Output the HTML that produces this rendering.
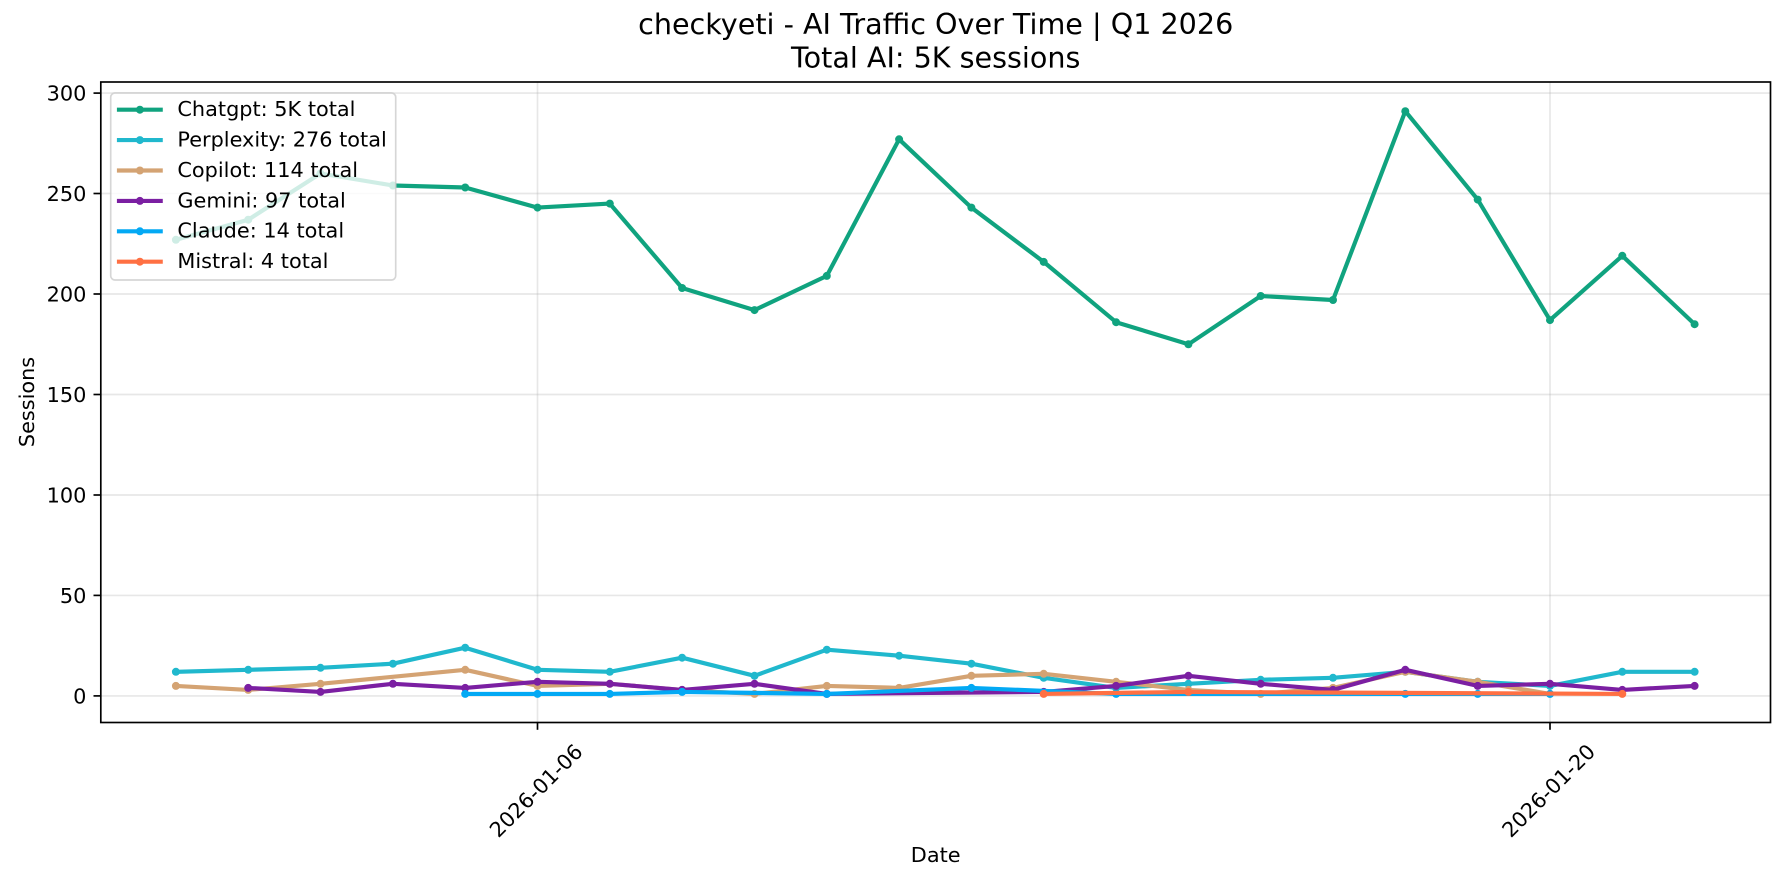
<!DOCTYPE html>
<html>
<head>
<meta charset="utf-8">
<style>
  html, body { margin: 0; padding: 0; background: #ffffff; }
  svg { display: block; }
  text { font-family: "DejaVu Sans", "Liberation Sans", sans-serif; fill: #000; }
</style>
</head>
<body>
<svg width="1785" height="884" viewBox="0 0 1785 884" xmlns="http://www.w3.org/2000/svg">
  <rect x="0" y="0" width="1785" height="884" fill="#ffffff"/>

  <!-- Gridlines -->
  <g stroke="#b0b0b0" stroke-opacity="0.3" stroke-width="1.67" fill="none">
    <line x1="101" y1="695.9" x2="1770.5" y2="695.9"/>
    <line x1="101" y1="595.4" x2="1770.5" y2="595.4"/>
    <line x1="101" y1="495.0" x2="1770.5" y2="495.0"/>
    <line x1="101" y1="394.5" x2="1770.5" y2="394.5"/>
    <line x1="101" y1="294.0" x2="1770.5" y2="294.0"/>
    <line x1="101" y1="193.5" x2="1770.5" y2="193.5"/>
    <line x1="101" y1="93.1" x2="1770.5" y2="93.1"/>
    <line x1="537.5" y1="82" x2="537.5" y2="722.5"/>
    <line x1="1550.0" y1="82" x2="1550.0" y2="722.5"/>
  </g>

  <!-- Chatgpt -->
  <g>
    <polyline fill="none" stroke="#10A37F" stroke-width="4.17" stroke-linejoin="round" stroke-linecap="square"
      points="175.9,239.8 248.2,219.7 320.5,173.5 392.9,185.5 465.2,187.5 537.5,207.6 609.8,203.6 682.1,288.0 754.5,310.1 826.8,275.9 899.1,139.3 971.4,207.6 1043.7,261.9 1116.1,322.2 1188.4,344.3 1260.7,296.0 1333.0,300.0 1405.3,111.2 1477.7,199.6 1550.0,320.1 1622.3,255.8 1694.6,324.2"/>
    <g fill="#10A37F">
      <circle cx="175.9" cy="239.8" r="4"/><circle cx="248.2" cy="219.7" r="4"/><circle cx="320.5" cy="173.5" r="4"/><circle cx="392.9" cy="185.5" r="4"/><circle cx="465.2" cy="187.5" r="4"/><circle cx="537.5" cy="207.6" r="4"/><circle cx="609.8" cy="203.6" r="4"/><circle cx="682.1" cy="288.0" r="4"/><circle cx="754.5" cy="310.1" r="4"/><circle cx="826.8" cy="275.9" r="4"/><circle cx="899.1" cy="139.3" r="4"/><circle cx="971.4" cy="207.6" r="4"/><circle cx="1043.7" cy="261.9" r="4"/><circle cx="1116.1" cy="322.2" r="4"/><circle cx="1188.4" cy="344.3" r="4"/><circle cx="1260.7" cy="296.0" r="4"/><circle cx="1333.0" cy="300.0" r="4"/><circle cx="1405.3" cy="111.2" r="4"/><circle cx="1477.7" cy="199.6" r="4"/><circle cx="1550.0" cy="320.1" r="4"/><circle cx="1622.3" cy="255.8" r="4"/><circle cx="1694.6" cy="324.2" r="4"/>
    </g>
  </g>

  <!-- Perplexity -->
  <g>
    <polyline fill="none" stroke="#20B8CD" stroke-width="4.17" stroke-linejoin="round" stroke-linecap="square"
      points="175.9,671.8 248.2,669.8 320.5,667.8 392.9,663.7 465.2,647.7 537.5,669.8 609.8,671.8 682.1,657.7 754.5,675.8 826.8,649.7 899.1,655.7 971.4,663.7 1043.7,677.8 1116.1,687.9 1188.4,683.8 1260.7,679.8 1333.0,677.8 1405.3,671.8 1477.7,681.8 1550.0,685.9 1622.3,671.8 1694.6,671.8"/>
    <g fill="#20B8CD">
      <circle cx="175.9" cy="671.8" r="4"/><circle cx="248.2" cy="669.8" r="4"/><circle cx="320.5" cy="667.8" r="4"/><circle cx="392.9" cy="663.7" r="4"/><circle cx="465.2" cy="647.7" r="4"/><circle cx="537.5" cy="669.8" r="4"/><circle cx="609.8" cy="671.8" r="4"/><circle cx="682.1" cy="657.7" r="4"/><circle cx="754.5" cy="675.8" r="4"/><circle cx="826.8" cy="649.7" r="4"/><circle cx="899.1" cy="655.7" r="4"/><circle cx="971.4" cy="663.7" r="4"/><circle cx="1043.7" cy="677.8" r="4"/><circle cx="1116.1" cy="687.9" r="4"/><circle cx="1188.4" cy="683.8" r="4"/><circle cx="1260.7" cy="679.8" r="4"/><circle cx="1333.0" cy="677.8" r="4"/><circle cx="1405.3" cy="671.8" r="4"/><circle cx="1477.7" cy="681.8" r="4"/><circle cx="1550.0" cy="685.9" r="4"/><circle cx="1622.3" cy="671.8" r="4"/><circle cx="1694.6" cy="671.8" r="4"/>
    </g>
  </g>

  <!-- Copilot -->
  <g>
    <polyline fill="none" stroke="#D4A373" stroke-width="4.17" stroke-linejoin="round" stroke-linecap="square"
      points="175.9,685.9 248.2,689.9 320.5,683.8 465.2,669.8 537.5,685.9 609.8,683.8 682.1,689.9 754.5,693.9 826.8,685.9 899.1,687.9 971.4,675.8 1043.7,673.8 1116.1,681.8 1188.4,689.9 1260.7,693.9 1333.0,687.9 1405.3,671.8 1477.7,681.8 1550.0,693.9"/>
    <g fill="#D4A373">
      <circle cx="175.9" cy="685.9" r="4"/><circle cx="248.2" cy="689.9" r="4"/><circle cx="320.5" cy="683.8" r="4"/><circle cx="465.2" cy="669.8" r="4"/><circle cx="537.5" cy="685.9" r="4"/><circle cx="609.8" cy="683.8" r="4"/><circle cx="682.1" cy="689.9" r="4"/><circle cx="754.5" cy="693.9" r="4"/><circle cx="826.8" cy="685.9" r="4"/><circle cx="899.1" cy="687.9" r="4"/><circle cx="971.4" cy="675.8" r="4"/><circle cx="1043.7" cy="673.8" r="4"/><circle cx="1116.1" cy="681.8" r="4"/><circle cx="1188.4" cy="689.9" r="4"/><circle cx="1260.7" cy="693.9" r="4"/><circle cx="1333.0" cy="687.9" r="4"/><circle cx="1405.3" cy="671.8" r="4"/><circle cx="1477.7" cy="681.8" r="4"/><circle cx="1550.0" cy="693.9" r="4"/>
    </g>
  </g>

  <!-- Gemini -->
  <g>
    <polyline fill="none" stroke="#7B1FA2" stroke-width="4.17" stroke-linejoin="round" stroke-linecap="square"
      points="248.2,687.9 320.5,691.9 392.9,683.8 465.2,687.9 537.5,681.8 609.8,683.8 682.1,689.9 754.5,683.8 826.8,693.9 1043.7,691.9 1116.1,685.9 1188.4,675.8 1260.7,683.8 1333.0,689.9 1405.3,669.8 1477.7,685.9 1550.0,683.8 1622.3,689.9 1694.6,685.9"/>
    <g fill="#7B1FA2">
      <circle cx="248.2" cy="687.9" r="4"/><circle cx="320.5" cy="691.9" r="4"/><circle cx="392.9" cy="683.8" r="4"/><circle cx="465.2" cy="687.9" r="4"/><circle cx="537.5" cy="681.8" r="4"/><circle cx="609.8" cy="683.8" r="4"/><circle cx="682.1" cy="689.9" r="4"/><circle cx="754.5" cy="683.8" r="4"/><circle cx="826.8" cy="693.9" r="4"/><circle cx="1043.7" cy="691.9" r="4"/><circle cx="1116.1" cy="685.9" r="4"/><circle cx="1188.4" cy="675.8" r="4"/><circle cx="1260.7" cy="683.8" r="4"/><circle cx="1333.0" cy="689.9" r="4"/><circle cx="1405.3" cy="669.8" r="4"/><circle cx="1477.7" cy="685.9" r="4"/><circle cx="1550.0" cy="683.8" r="4"/><circle cx="1622.3" cy="689.9" r="4"/><circle cx="1694.6" cy="685.9" r="4"/>
    </g>
  </g>

  <!-- Claude -->
  <g>
    <polyline fill="none" stroke="#03A9F4" stroke-width="4.17" stroke-linejoin="round" stroke-linecap="square"
      points="465.2,693.9 537.5,693.9 609.8,693.9 682.1,691.9 826.8,693.9 971.4,687.9 1116.1,693.9 1405.3,693.9 1477.7,693.9 1550.0,693.9"/>
    <g fill="#03A9F4">
      <circle cx="465.2" cy="693.9" r="4"/><circle cx="537.5" cy="693.9" r="4"/><circle cx="609.8" cy="693.9" r="4"/><circle cx="682.1" cy="691.9" r="4"/><circle cx="826.8" cy="693.9" r="4"/><circle cx="971.4" cy="687.9" r="4"/><circle cx="1116.1" cy="693.9" r="4"/><circle cx="1405.3" cy="693.9" r="4"/><circle cx="1477.7" cy="693.9" r="4"/><circle cx="1550.0" cy="693.9" r="4"/>
    </g>
  </g>

  <!-- Mistral -->
  <g>
    <polyline fill="none" stroke="#FF7043" stroke-width="4.17" stroke-linejoin="round" stroke-linecap="square"
      points="1043.7,693.9 1188.4,691.9 1622.3,693.9"/>
    <g fill="#FF7043">
      <circle cx="1043.7" cy="693.9" r="4"/><circle cx="1188.4" cy="691.9" r="4"/><circle cx="1622.3" cy="693.9" r="4"/>
    </g>
  </g>

  <!-- Spines -->
  <rect x="100.8" y="82" width="1669.7" height="640.5" fill="none" stroke="#000" stroke-width="1.67"/>

  <!-- Ticks -->
  <g stroke="#000" stroke-width="1.67">
    <line x1="100.8" y1="695.9" x2="93.5" y2="695.9"/>
    <line x1="100.8" y1="595.4" x2="93.5" y2="595.4"/>
    <line x1="100.8" y1="495.0" x2="93.5" y2="495.0"/>
    <line x1="100.8" y1="394.5" x2="93.5" y2="394.5"/>
    <line x1="100.8" y1="294.0" x2="93.5" y2="294.0"/>
    <line x1="100.8" y1="193.5" x2="93.5" y2="193.5"/>
    <line x1="100.8" y1="93.1" x2="93.5" y2="93.1"/>
    <line x1="537.5" y1="722.5" x2="537.5" y2="729.8"/>
    <line x1="1550.0" y1="722.5" x2="1550.0" y2="729.8"/>
  </g>

  <!-- Y tick labels -->
  <g font-size="20.83" text-anchor="end">
    <text x="86.4" y="703.5">0</text>
    <text x="86.4" y="603.0">50</text>
    <text x="86.4" y="502.6">100</text>
    <text x="86.4" y="402.1">150</text>
    <text x="86.4" y="301.6">200</text>
    <text x="86.4" y="201.1">250</text>
    <text x="86.4" y="100.7">300</text>
  </g>

  <!-- X tick labels -->
  <g font-size="20.83" text-anchor="end">
    <text transform="translate(584,753) rotate(-45)">2026-01-06</text>
    <text transform="translate(1596.5,753) rotate(-45)">2026-01-20</text>
  </g>

  <!-- Axis labels -->
  <text x="935.7" y="862" font-size="20.83" text-anchor="middle">Date</text>
  <text transform="translate(34,402) rotate(-90)" font-size="20.83" text-anchor="middle">Sessions</text>

  <!-- Title -->
  <text x="935.7" y="34" font-size="28.6" text-anchor="middle">checkyeti - AI Traffic Over Time | Q1 2026</text>
  <text x="935.7" y="67.5" font-size="28.6" text-anchor="middle">Total AI: 5K sessions</text>

  <!-- Legend -->
  <rect x="110.7" y="93" width="285" height="187" rx="4.2" ry="4.2" fill="#ffffff" fill-opacity="0.8" stroke="#cccccc" stroke-opacity="0.8" stroke-width="1.67"/>
  <g stroke-width="4.17" stroke-linecap="square">
    <line x1="119" y1="109.7" x2="160.7" y2="109.7" stroke="#10A37F"/>
    <line x1="119" y1="140.1" x2="160.7" y2="140.1" stroke="#20B8CD"/>
    <line x1="119" y1="170.5" x2="160.7" y2="170.5" stroke="#D4A373"/>
    <line x1="119" y1="200.9" x2="160.7" y2="200.9" stroke="#7B1FA2"/>
    <line x1="119" y1="231.3" x2="160.7" y2="231.3" stroke="#03A9F4"/>
    <line x1="119" y1="261.7" x2="160.7" y2="261.7" stroke="#FF7043"/>
  </g>
  <circle cx="139.9" cy="109.7" r="4" fill="#10A37F"/>
  <circle cx="139.9" cy="140.1" r="4" fill="#20B8CD"/>
  <circle cx="139.9" cy="170.5" r="4" fill="#D4A373"/>
  <circle cx="139.9" cy="200.9" r="4" fill="#7B1FA2"/>
  <circle cx="139.9" cy="231.3" r="4" fill="#03A9F4"/>
  <circle cx="139.9" cy="261.7" r="4" fill="#FF7043"/>
  <g font-size="20.83">
    <text x="177.4" y="116.1">Chatgpt: 5K total</text>
    <text x="177.4" y="146.5">Perplexity: 276 total</text>
    <text x="177.4" y="176.9">Copilot: 114 total</text>
    <text x="177.4" y="207.3">Gemini: 97 total</text>
    <text x="177.4" y="237.7">Claude: 14 total</text>
    <text x="177.4" y="268.1">Mistral: 4 total</text>
  </g>
</svg>
</body>
</html>
